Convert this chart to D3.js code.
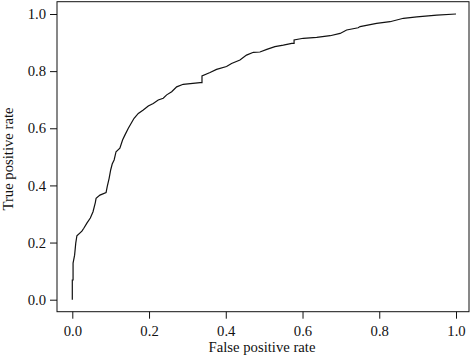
<!DOCTYPE html>
<html>
<head>
<meta charset="utf-8">
<script src="https://cdn.jsdelivr.net/npm/d3@7"></script>
<style>
  body { margin: 0; background: #fff; }
  text { font-family: "Liberation Serif", "DejaVu Serif", serif; fill: #111; }
</style>
</head>
<body>
<div id="chart"></div>
<script>
// ROC curve points
const fpr = [0, 0, 0.002, 0.002, 0.006, 0.009, 0.012, 0.025, 0.030, 0.038, 0.047, 0.054, 0.060,
    0.062, 0.072, 0.088, 0.091, 0.096, 0.100, 0.104, 0.109, 0.114, 0.124, 0.131, 0.137, 0.146,
    0.155, 0.161, 0.172, 0.185, 0.198, 0.211, 0.224, 0.237, 0.246, 0.259, 0.272, 0.289, 0.333,
    0.338, 0.338, 0.359, 0.376, 0.402, 0.415, 0.437, 0.454, 0.472, 0.489, 0.507, 0.528, 0.550,
    0.572, 0.578, 0.578, 0.602, 0.637, 0.672, 0.698, 0.715, 0.745, 0.750, 0.793, 0.828, 0.863,
    0.898, 0.950, 1.0];
const tpr = [0, 0.069, 0.069, 0.128, 0.156, 0.198, 0.224, 0.240, 0.250, 0.268, 0.286, 0.308, 0.340,
    0.355, 0.366, 0.375, 0.396, 0.425, 0.454, 0.475, 0.489, 0.518, 0.530, 0.559, 0.576, 0.600,
    0.621, 0.635, 0.652, 0.664, 0.678, 0.687, 0.699, 0.705, 0.717, 0.728, 0.745, 0.754, 0.760,
    0.760, 0.783, 0.795, 0.806, 0.816, 0.827, 0.839, 0.856, 0.866, 0.867, 0.876, 0.886, 0.891,
    0.897, 0.897, 0.909, 0.915, 0.918, 0.924, 0.932, 0.944, 0.952, 0.956, 0.967, 0.973, 0.985,
    0.990, 0.996, 1.0];
const TICKS = [0, 0.2, 0.4, 0.6, 0.8, 1.0];

const WIDTH = 473;
const HEIGHT = 363;
const BOX = { left: 57, right: 469, top: 1.7, bottom: 311.7 };

const svg = d3.select('#chart').append('svg')
    .attr('width', WIDTH)
    .attr('height', HEIGHT);

const x = d3.scaleLinear().domain([0, 1]).range([72.3, 456]);
const y = d3.scaleLinear().domain([0, 1]).range([299.7, 14]);

// frame
svg.append('rect')
    .attr('x', BOX.left)
    .attr('y', BOX.top)
    .attr('width', BOX.right - BOX.left)
    .attr('height', BOX.bottom - BOX.top)
    .attr('fill', 'none')
    .attr('stroke', '#111')
    .attr('stroke-width', 1);

const xAxis = svg.append('g')
    .attr('transform', `translate(0,${BOX.bottom})`)
    .call(d3.axisBottom(x).tickValues(TICKS).tickFormat(d3.format('.1f')).tickSize(7).tickPadding(7));
const yAxis = svg.append('g')
    .attr('transform', `translate(${BOX.left},0)`)
    .call(d3.axisLeft(y).tickValues(TICKS).tickFormat(d3.format('.1f')).tickSize(7).tickPadding(4));

[xAxis, yAxis].forEach(g => {
    g.select('.domain').remove();
    g.selectAll('line').attr('stroke', '#111');
    g.selectAll('text')
        .style('font-family', '"Liberation Serif", serif')
        .style('font-size', '14.7px')
        .attr('fill', '#111');
});

svg.append('text')
    .attr('x', 262)
    .attr('y', 352)
    .attr('text-anchor', 'middle')
    .style('font-size', '14.7px')
    .text('False positive rate');

svg.append('text')
    .attr('transform', 'translate(13,159) rotate(-90)')
    .attr('text-anchor', 'middle')
    .style('font-size', '14.7px')
    .text('True positive rate');

const points = fpr.map((f, i) => [f, tpr[i]]);

svg.append('path')
    .datum(points)
    .attr('fill', 'none')
    .attr('stroke', '#111')
    .attr('stroke-width', 1.2)
    .attr('d', d3.line()
        .x(d => x(d[0]))
        .y(d => y(d[1])));
</script>
</body>
</html>
